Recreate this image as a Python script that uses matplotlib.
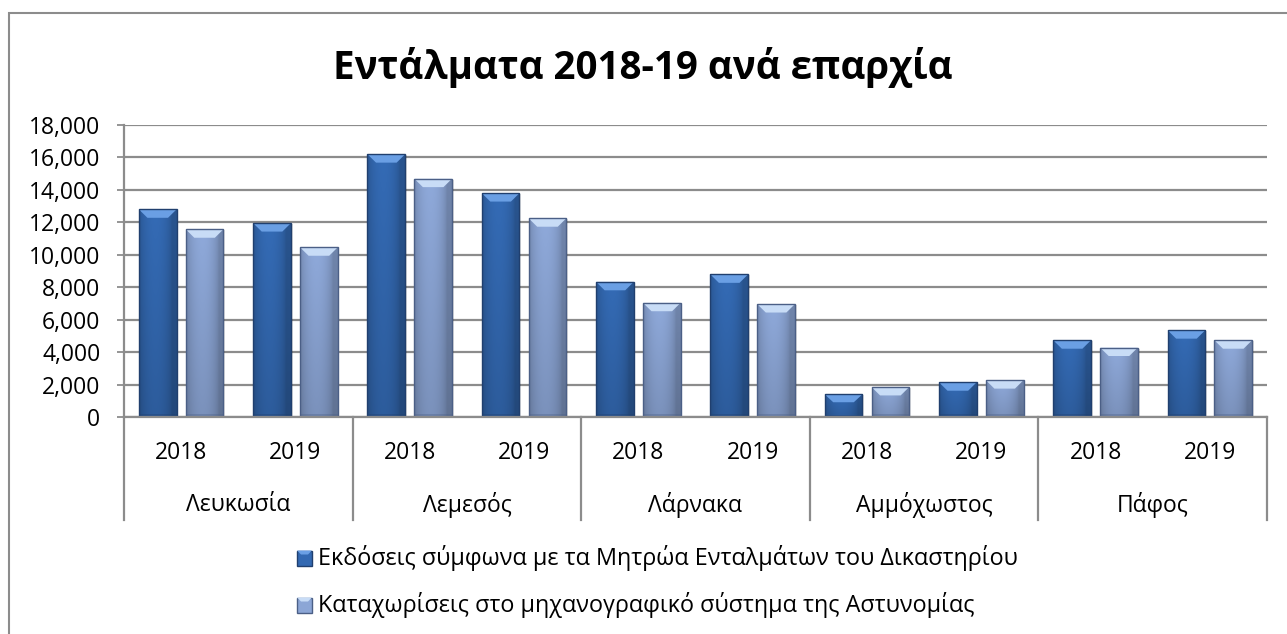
import numpy as np
import matplotlib
matplotlib.use("Agg")
import matplotlib.pyplot as plt
import matplotlib.transforms as mtransforms
from matplotlib.patches import Polygon, Rectangle
from matplotlib.ticker import FuncFormatter

plt.rcParams['font.family'] = ['Open Sans', 'DejaVu Sans']

# data
regions = ["Λευκωσία", "Λεμεσός", "Λάρνακα", "Αμμόχωστος", "Πάφος"]
years = ["2018", "2019"]
issued = [12800, 11950, 16200, 13800, 8330, 8790, 1400, 2140, 4730, 5350]
registered = [11570, 10460, 14690, 12250, 7040, 6960, 1850, 2270, 4280, 4730]
seriesNames = [
    "Εκδόσεις σύμφωνα με τα Μητρώα Ενταλμάτων του Δικαστηρίου",
    "Καταχωρίσεις στο μηχανογραφικό σύστημα της Αστυνομίας",
]
title = "Εντάλματα 2018-19 ανά επαρχία"

W, H = 1287, 634
fig = plt.figure(figsize=(W / 100, H / 100), dpi=100)
ax = fig.add_axes([124 / W, 1 - 417 / H, 1143 / W, 292 / H])

gridCol = "#8c8c8c"
darkBase = np.array([0x33, 0x69, 0xb2]) / 255
lightBase = np.array([0x8c, 0xa6, 0xd6]) / 255
darkBevel = "#6a9fe4"
lightBevel = "#c8dcf6"
darkEdge = "#203f6e"
lightEdge = "#4b5f86"


def drawBar(ax, xc, w, h, base, bevelCol, edgeCol):
    rect = ax.bar(xc, h, w, color=base, edgecolor="none", zorder=3)[0]
    # soft shadow
    ax.add_patch(Rectangle((xc - w / 2 + 0.015, -60), w, h, facecolor="#000000",
                           alpha=0.12, edgecolor="none", zorder=2.5, clip_on=False))
    # horizontal + vertical shading
    u = np.linspace(0, 1, 60)
    hor = 0.80 + 0.22 * np.sin(np.pi * np.clip(u * 1.15, 0, 1)) ** 0.6
    v = np.linspace(0, 1, 80)[:, None]
    vert = 0.86 + 0.14 * v
    img = np.clip(base[None, None, :] * (hor[None, :, None] * vert[:, :, None]), 0, 1)
    im = ax.imshow(img, extent=[xc - w / 2, xc + w / 2, 0, h], origin="lower",
                   aspect="auto", zorder=3.5, interpolation="bilinear")
    im.set_clip_path(rect)
    bx = 0.075
    by = min(520, h * 0.35)
    top = Polygon([(xc - w / 2, h), (xc + w / 2, h), (xc + w / 2 - bx, h - by),
                   (xc - w / 2 + bx, h - by)], closed=True,
                  facecolor=bevelCol, edgecolor="none", zorder=4)
    ax.add_patch(top)
    bot = Rectangle((xc - w / 2, 0), w, min(160, h * 0.1), facecolor=edgeCol,
                    alpha=0.35, edgecolor="none", zorder=4)
    ax.add_patch(bot)
    ax.add_patch(Rectangle((xc - w / 2, 0), w, h, facecolor="none",
                           edgecolor=edgeCol, linewidth=1.0, zorder=5))


x = np.arange(len(issued))
barW = 0.33
off = 0.205
for i in range(len(x)):
    drawBar(ax, x[i] - off, barW, issued[i], darkBase, darkBevel, darkEdge)
    drawBar(ax, x[i] + off, barW, registered[i], lightBase, lightBevel, lightEdge)

ax.set_xlim(-0.5, len(x) - 0.5)
ax.set_ylim(0, 18000)
ax.set_yticks(np.arange(0, 18001, 2000))
ax.yaxis.set_major_formatter(FuncFormatter(lambda v, p: f"{int(v):,}"))
ax.tick_params(axis="y", length=5, color=gridCol, width=1.3, labelsize=16.5, pad=12)
ax.set_xticks([])
ax.grid(axis="y", color=gridCol, linewidth=1.6, zorder=0)
ax.set_axisbelow(True)
for s in ["top", "right"]:
    ax.spines[s].set_visible(False)
ax.spines["left"].set_color(gridCol)
ax.spines["left"].set_linewidth(1.6)
ax.spines["bottom"].set_color(gridCol)
ax.spines["bottom"].set_linewidth(1.6)
ax.spines["bottom"].set_zorder(6)

# multi-level category axis
trans = mtransforms.blended_transform_factory(ax.transData, ax.transAxes)
sepBottom = -(520 - 417) / 292
for b in np.arange(-0.5, len(x), 2):
    ax.plot([b, b], [0, sepBottom], transform=trans, color=gridCol,
            linewidth=1.6, clip_on=False)
for i in range(len(x)):
    ax.text(x[i], -(453 - 417) / 292, years[i % 2], transform=trans,
            ha="center", va="center", fontsize=16.5)
for j, r in enumerate(regions):
    ax.text(2 * j + 0.5, -(505 - 417) / 292, r, transform=trans,
            ha="center", va="center", fontsize=16.5)

# title
tt = fig.text(642.5 / W, 1 - 68 / H, title, ha="center", va="center",
              fontsize=30, fontweight="bold")

# legend
legY = [558, 605]
legCols = [(darkBase, darkEdge, darkBevel), (lightBase, lightEdge, lightBevel)]
legTexts = []
for k in range(2):
    fc, ec, bc = legCols[k]
    fig.patches.append(Rectangle((297 / W, 1 - (legY[k] + 7.5) / H), 15 / W, 15 / H,
                                 transform=fig.transFigure, facecolor=fc,
                                 edgecolor=ec, linewidth=1.0))
    fig.patches.append(Polygon([(297 / W, 1 - (legY[k] - 7.5) / H),
                                (312 / W, 1 - (legY[k] - 7.5) / H),
                                (308 / W, 1 - (legY[k] - 3.5) / H),
                                (301 / W, 1 - (legY[k] - 3.5) / H)],
                               closed=True, transform=fig.transFigure,
                               facecolor=bc, edgecolor="none"))
    legTexts.append(fig.text(318 / W, 1 - legY[k] / H, seriesNames[k],
                             ha="left", va="center", fontsize=16.5))

# outer chart border
fig.patches.append(Rectangle((9 / W, -0.05), 1.1, 1 - 13 / H + 0.05,
                             transform=fig.transFigure, facecolor="none",
                             edgecolor="#8c8c8c", linewidth=1.5))

# fit text widths to the reference
fig.canvas.draw()
r = fig.canvas.get_renderer()
for t, target in [(tt, 620), (legTexts[0], 702)]:
    wpx = t.get_window_extent(r).width
    t.set_fontsize(t.get_fontsize() * target / wpx)
s = legTexts[0].get_fontsize()
legTexts[1].set_fontsize(s)

fig.savefig("out.png", dpi=100)
